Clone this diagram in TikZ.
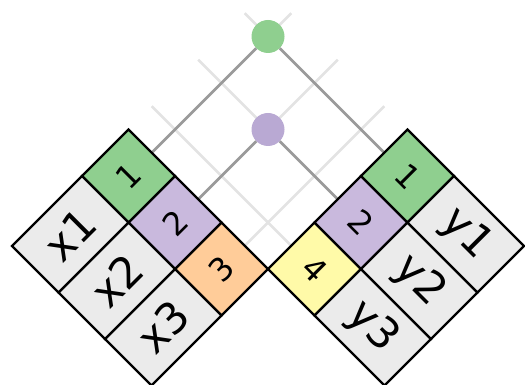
\documentclass[tikz,border=0pt]{standalone}
\usepackage{fontspec}
\setmainfont{DejaVu Sans}
\definecolor{cgreen}{HTML}{8FCF8F}
\definecolor{cpurple}{HTML}{C9B9DD}
\definecolor{cpurpledot}{HTML}{B9A9D3}
\definecolor{corange}{HTML}{FFCC99}
\definecolor{cyellow}{HTML}{FFFAA8}
\definecolor{cgray}{HTML}{EBEBEB}
\definecolor{clink}{HTML}{9A9A9A}
\definecolor{cfaint}{HTML}{E3E3E3}
\tikzset{
  cellbox/.style={draw=black, line width=2.4pt, line join=miter},
  lbl/.style={font=\fontsize{43}{43}\selectfont, inner sep=0pt},
  num/.style={font=\fontsize{32}{32}\selectfont, inner sep=0pt},
  faint/.style={draw=cfaint, line width=2.6pt},
  link/.style={draw=clink, line width=2.8pt},
  dot/.style={circle, inner sep=0pt, minimum size=33pt, draw=none},
}
\begin{document}
\begin{tikzpicture}[x=1pt,y=1pt]
\useasboundingbox (0,0) rectangle (525,385);
\def\s{65.76}
\def\w{99}
% left block: local x runs up-left along the coloured column, local y runs down-left
\begin{scope}[shift={(268,116)}, rotate=135]
  \foreach \k in {0,1,2}{
    \coordinate (lm\k) at ({(\k+0.5)*\s},0);
    \coordinate (lt\k) at ({(\k+0.5)*\s},{-3*\s});
  }
  \coordinate (gpos) at ({2.5*\s},{-2.5*\s});
  \coordinate (ppos) at ({1.5*\s},{-1.5*\s});
\end{scope}
% right block: mirrored, local y runs down-right
\begin{scope}[shift={(268,116)}, rotate=45, yscale=-1]
  \foreach \k in {0,1,2}{
    \coordinate (rm\k) at ({(\k+0.5)*\s},0);
    \coordinate (rt\k) at ({(\k+0.5)*\s},{-3*\s});
  }
\end{scope}
% light lattice
\foreach \k in {0,1,2}{
  \draw[faint] (lm\k) -- (lt\k);
  \draw[faint] (rm\k) -- (rt\k);
}
% join circles and their links
\node[dot, fill=cgreen] (gdot) at (gpos) {};
\node[dot, fill=cpurpledot] (pdot) at (ppos) {};
\draw[link] (lm2) -- (gdot);
\draw[link] (rm2) -- (gdot);
\draw[link] (lm1) -- (pdot);
\draw[link] (rm1) -- (pdot);
% left cells
\begin{scope}[shift={(268,116)}, rotate=135]
  \draw[cellbox, fill=corange] (0,0) -- (\s,0) -- (\s,\s) -- (0,\s) -- cycle;
  \draw[cellbox, fill=cpurple] (\s,0) -- ({2*\s},0) -- ({2*\s},\s) -- (\s,\s) -- cycle;
  \draw[cellbox, fill=cgreen] ({2*\s},0) -- ({3*\s},0) -- ({3*\s},\s) -- ({2*\s},\s) -- cycle;
  \foreach \k in {0,1,2}{
    \draw[cellbox, fill=cgray] ({\k*\s},\s) -- ({(\k+1)*\s},\s) -- ({(\k+1)*\s},{\s+\w}) -- ({\k*\s},{\s+\w}) -- cycle;
  }
  \node[num, rotate=45] (ln3) at ({0.5*\s},{0.5*\s}) {3};
  \node[num, rotate=45] (ln2) at ({1.5*\s},{0.5*\s}) {2};
  \node[num, rotate=45] (ln1) at ({2.5*\s},{0.5*\s}) {1};
  \node[lbl, rotate=45] (x3) at ({0.5*\s},{\s+0.5*\w}) {x3};
  \node[lbl, rotate=45] (x2) at ({1.5*\s},{\s+0.5*\w}) {x2};
  \node[lbl, rotate=45] (x1) at ({2.5*\s},{\s+0.5*\w}) {x1};
\end{scope}
% right cells
\begin{scope}[shift={(268,116)}, rotate=45, yscale=-1]
  \draw[cellbox, fill=cyellow] (0,0) -- (\s,0) -- (\s,\s) -- (0,\s) -- cycle;
  \draw[cellbox, fill=cpurple] (\s,0) -- ({2*\s},0) -- ({2*\s},\s) -- (\s,\s) -- cycle;
  \draw[cellbox, fill=cgreen] ({2*\s},0) -- ({3*\s},0) -- ({3*\s},\s) -- ({2*\s},\s) -- cycle;
  \foreach \k in {0,1,2}{
    \draw[cellbox, fill=cgray] ({\k*\s},\s) -- ({(\k+1)*\s},\s) -- ({(\k+1)*\s},{\s+\w}) -- ({\k*\s},{\s+\w}) -- cycle;
  }
  \node[num, rotate=-45] (rn4) at ({0.5*\s},{0.5*\s}) {4};
  \node[num, rotate=-45] (rn2) at ({1.5*\s},{0.5*\s}) {2};
  \node[num, rotate=-45] (rn1) at ({2.5*\s},{0.5*\s}) {1};
  \node[lbl, rotate=-45] (y3) at ({0.5*\s},{\s+0.5*\w}) {y3};
  \node[lbl, rotate=-45] (y2) at ({1.5*\s},{\s+0.5*\w}) {y2};
  \node[lbl, rotate=-45] (y1) at ({2.5*\s},{\s+0.5*\w}) {y1};
\end{scope}
\end{tikzpicture}
\end{document}
